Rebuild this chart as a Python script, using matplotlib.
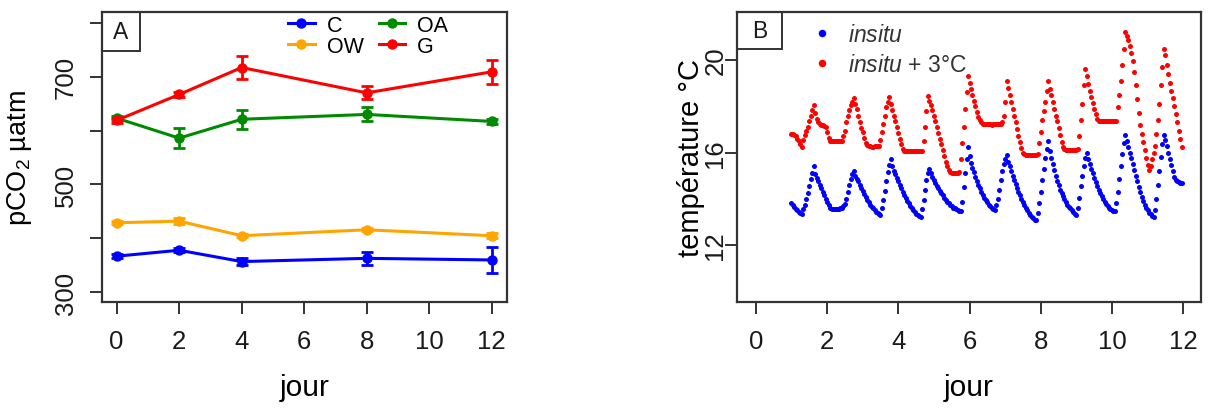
import numpy as np
import matplotlib
matplotlib.use("Agg")
import matplotlib.pyplot as plt
from matplotlib.patches import Rectangle

plt.rcParams['font.family'] = ['Liberation Sans', 'DejaVu Sans']
plt.rcParams['mathtext.fontset'] = 'custom'
plt.rcParams['mathtext.rm'] = 'Liberation Sans'
plt.rcParams['mathtext.it'] = 'Liberation Sans:italic'

# ---- panel A : pCO2 per treatment ----
jours = [0, 2, 4, 8, 12]
C_moy = [367, 378, 357, 363, 360]
C_err = [4, 4, 6, 12, 24]
OW_moy = [429, 432, 405, 416, 405]
OW_err = [3, 5, 3, 3, 5]
OA_moy = [623, 586, 621, 630, 617]
OA_err = [4, 18, 18, 13, 5]
G_moy = [619, 667, 717, 670, 709]
G_err = [4, 4, 21, 12, 22]

# ---- panel B : hourly temperature, starting at day 1 ----
debut_jour = 1.0
pas_h = 1 / 24
T_insitu = [
    13.80, 13.72, 13.65, 13.55, 13.50, 13.42, 13.38, 13.35,
    13.55, 13.75, 14.00, 14.25, 14.55, 14.85, 15.10, 15.40,
    15.05, 14.90, 14.75, 14.60, 14.45, 14.30, 14.15, 14.00, 13.85, 13.72, 13.62,
    13.56, 13.55, 13.54, 13.54, 13.55, 13.56, 13.58, 13.62, 13.68, 13.78,
    14.00, 14.30, 14.60, 14.85, 15.05, 15.20,
    15.00, 14.85, 14.75, 14.60, 14.45, 14.32, 14.20, 14.08, 13.96, 13.85,
    13.75, 13.66, 13.58, 13.50, 13.44, 13.38, 13.33, 13.30,
    13.60, 13.95, 14.35, 14.75, 15.15, 15.45, 15.70,
    15.40, 15.20, 15.05, 14.90, 14.75, 14.60, 14.45, 14.30, 14.18, 14.05,
    13.92, 13.80, 13.68, 13.58, 13.50, 13.42, 13.35, 13.30, 13.25, 13.22,
    13.55, 13.95, 14.40, 14.80, 15.10, 15.30,
    15.10, 14.95, 14.80, 14.70, 14.55, 14.45, 14.35, 14.25, 14.15, 14.05, 13.95,
    13.88, 13.80, 13.75, 13.68, 13.62, 13.58, 13.55, 13.52, 13.48, 13.45,
    13.85, 14.50, 15.10, 15.70, 16.25,
    15.85, 15.55, 15.35, 15.15, 14.95, 14.78, 14.60, 14.45, 14.30,
    14.18, 14.05, 13.95, 13.85, 13.75, 13.68, 13.60, 13.55, 13.50,
    13.75, 14.00, 14.40, 14.80, 15.20, 15.50, 15.70, 15.90,
    15.60, 15.40, 15.20, 15.00, 14.80, 14.62, 14.45, 14.30, 14.15, 14.00,
    13.85, 13.72, 13.60, 13.50, 13.40, 13.30, 13.22, 13.15, 13.10, 13.06,
    13.40, 13.80, 14.30, 14.80, 15.30, 15.75, 16.15, 16.50,
    16.05, 15.75, 15.50, 15.25, 15.00, 14.78, 14.58, 14.40, 14.25, 14.10,
    13.98, 13.86, 13.75, 13.66, 13.58, 13.50, 13.42, 13.35, 13.30,
    13.60, 14.05, 14.55, 15.00, 15.40, 15.75, 16.00,
    15.70, 15.50, 15.30, 15.10, 14.90, 14.72, 14.55, 14.40, 14.25, 14.10,
    13.98, 13.88, 13.78, 13.70, 13.62, 13.56, 13.52, 13.48, 13.45,
    13.80, 14.30, 14.85, 15.40, 15.95, 16.40, 16.75,
    16.50, 16.25, 16.00, 15.75, 15.50, 15.25, 15.00, 14.75, 14.50, 14.28,
    14.08, 13.90, 13.75, 13.62, 13.50, 13.40, 13.32, 13.25, 13.20,
    13.50, 14.00, 14.60, 15.20, 15.80, 16.35, 16.75,
    16.55, 16.30, 16.00, 15.70, 15.45, 15.20, 14.95, 14.80, 14.75, 14.72, 14.70, 14.68,
]
T_rechauffe = [
    16.80, 16.78, 16.75, 16.70, 16.60, 16.50, 16.35, 16.25,
    16.55, 16.75, 16.95, 17.10, 17.35, 17.60, 17.85, 18.05,
    17.70, 17.45, 17.30, 17.22, 17.20, 17.18, 17.15, 17.10, 16.90, 16.65,
    16.50, 16.48, 16.48, 16.48, 16.48, 16.50, 16.50, 16.50, 16.52,
    16.70, 16.95, 17.30, 17.60, 17.85, 18.05, 18.20, 18.35,
    18.10, 17.90, 17.60, 17.30, 17.05, 16.87, 16.65, 16.43, 16.32,
    16.28, 16.27, 16.26, 16.26, 16.27, 16.27, 16.28, 16.30,
    16.55, 16.90, 17.25, 17.60, 17.95, 18.20, 18.40,
    18.10, 17.85, 17.60, 17.35, 17.10, 16.85, 16.60, 16.35, 16.15,
    16.08, 16.06, 16.05, 16.05, 16.05, 16.06, 16.06, 16.05, 16.05, 16.06, 16.06, 16.07, 16.08,
    16.50, 17.10, 17.80, 18.45,
    18.25, 18.05, 17.85, 17.60, 17.35, 17.10, 16.85, 16.60, 16.35, 16.10,
    15.85, 15.60, 15.40, 15.25, 15.15,
    15.12, 15.10, 15.10, 15.10, 15.12, 15.14,
    15.70, 16.40, 17.10, 17.90, 18.60, 19.32,
    19.00, 18.75, 18.50, 18.25, 18.00, 17.75, 17.55, 17.40, 17.30,
    17.25, 17.24, 17.22, 17.22, 17.22, 17.22, 17.21, 17.22, 17.22, 17.22, 17.23, 17.24, 17.25,
    17.30, 17.60, 18.20, 19.10,
    18.80, 18.50, 18.20, 17.90, 17.60, 17.30, 17.00, 16.70, 16.45, 16.20, 16.00, 15.92,
    15.90, 15.90, 15.90, 15.90, 15.91, 15.91, 15.90, 15.90, 15.92,
    16.40, 16.90, 17.40, 17.80, 18.20, 18.65, 19.10,
    18.75, 18.50, 18.20, 17.90, 17.60, 17.35, 17.05, 16.75, 16.45, 16.25, 16.15,
    16.13, 16.12, 16.12, 16.12, 16.13, 16.13, 16.12, 16.13, 16.15,
    16.70, 17.40, 18.10, 18.90, 19.60,
    19.30, 18.95, 18.65, 18.40, 18.15, 17.90, 17.65, 17.45, 17.38,
    17.37, 17.36, 17.35, 17.35, 17.35, 17.36, 17.36, 17.35, 17.35, 17.36, 17.36, 17.38,
    17.95, 18.50, 19.10, 19.80, 20.50, 21.20,
    21.05, 20.85, 20.60, 20.30, 19.95, 19.50, 18.90, 18.30, 17.70, 17.20,
    16.80, 16.45, 16.10, 15.75, 15.45, 15.26,
    15.40, 15.70, 16.00, 16.30, 16.80, 17.40, 18.10, 18.90, 19.70, 20.50,
    20.20, 19.80, 19.40, 19.00, 18.65, 18.35, 18.00, 17.65, 17.30, 16.95, 16.60, 16.25,
]
temps = debut_jour + np.arange(len(T_insitu)) * pas_h

W, H = 1208, 410
fig = plt.figure(figsize=(W / 100, H / 100), dpi=100)
ax1 = fig.add_axes([102 / W, 1 - 303 / H, 405 / W, 290 / H])
ax2 = fig.add_axes([737.3 / W, 1 - 303.3 / H, 463.7 / W, 290.3 / H])

frame = '#333333'
for ax in (ax1, ax2):
    for sp in ax.spines.values():
        sp.set_color(frame)
        sp.set_linewidth(1.6)
    ax.tick_params(direction='out', length=8.6, width=1.4, color=frame,
                   labelsize=18.5, labelcolor='#1a1a1a')
    ax.tick_params(axis='x', pad=10.5)
ax1.tick_params(axis='y', pad=9)
ax2.tick_params(axis='y', pad=-1.5)

# panel A
series = [
    ('C', C_moy, C_err, '#0000ff'),
    ('OW', OW_moy, OW_err, '#ffa500'),
    ('OA', OA_moy, OA_err, '#008a00'),
    ('G', G_moy, G_err, '#ff0000'),
]
handles = []
for nom, moy, err, col in series:
    ax1.errorbar(jours, moy, yerr=err, fmt='none', ecolor=col, elinewidth=2.0,
                 capsize=4.5, capthick=2.0)
    h, = ax1.plot(jours, moy, '-o', color=col, lw=2.2, ms=6.5, label=nom)
    handles.append(h)

ax1.set_xlim(-0.47, 12.49)
ax1.set_ylim(282, 820)
ax1.set_xticks(range(0, 13, 2))
ax1.set_yticks([300, 400, 500, 600, 700, 800])
ax1.set_yticklabels(['300', '', '500', '', '700', ''])
for lbl in ax1.get_yticklabels():
    lbl.set_rotation(90)
    lbl.set_va('center')
ax1.set_ylabel('pCO$_2$ µatm', fontsize=19.5)
ax1.yaxis.set_label_coords(-0.168, 0.5)
ax1.set_xlabel('jour', fontsize=21.5)
ax1.xaxis.set_label_coords(0.5, -0.245)

leg1 = ax1.legend(handles=handles, ncol=2, loc='upper left',
                  bbox_to_anchor=(0.459, 0.99), frameon=False, fontsize=15.5,
                  borderpad=0, borderaxespad=0, handlelength=1.25,
                  handletextpad=0.55, columnspacing=0.7, labelspacing=0.0,
                  numpoints=1)
ax1.add_patch(Rectangle((0, 1 - 39 / 290), 38 / 405, 39 / 290, transform=ax1.transAxes,
                        fill=False, ec=frame, lw=1.4, zorder=5))
ax1.text(19 / 405, 1 - 19.5 / 290, 'A', transform=ax1.transAxes, ha='center',
         va='center', fontsize=16.5, color='#1a1a1a')

# panel B
ax2.plot(temps, T_insitu, 'o', color='#0000ff', ms=3.6, mec='none', ls='none',
         label=r'$\it{insitu}$')
ax2.plot(temps, T_rechauffe, 'o', color='#ff0000', ms=3.6, mec='none', ls='none',
         label=r'$\it{insitu}$ + 3°C')
ax2.set_xlim(-0.52, 12.5)
ax2.set_ylim(9.52, 22.08)
ax2.set_xticks(range(0, 13, 2))
ax2.set_yticks([12, 16, 20])
for lbl in ax2.get_yticklabels():
    lbl.set_rotation(90)
    lbl.set_va('center')
ax2.set_ylabel('température °C', fontsize=21)
ax2.yaxis.set_label_coords(-0.07, 0.5)
ax2.set_xlabel('jour', fontsize=21.5)
ax2.xaxis.set_label_coords(0.5, -0.245)

leg2 = ax2.legend(loc='upper left', bbox_to_anchor=(0.165, 0.962), frameon=False,
                  fontsize=16.5, borderpad=0, borderaxespad=0, handlelength=0.75,
                  handletextpad=0.75, labelspacing=0.3, markerscale=1.5,
                  labelcolor='#333333')
ax2.add_patch(Rectangle((0, 1 - 37 / 290.3), 45 / 463.7, 37 / 290.3,
                        transform=ax2.transAxes, fill=False, ec=frame, lw=1.4, zorder=5))
ax2.text(22.5 / 463.7, 1 - 18.5 / 290.3, 'B', transform=ax2.transAxes, ha='center',
         va='center', fontsize=16.5, color='#1a1a1a')

fig.savefig('out.png', dpi=100)
